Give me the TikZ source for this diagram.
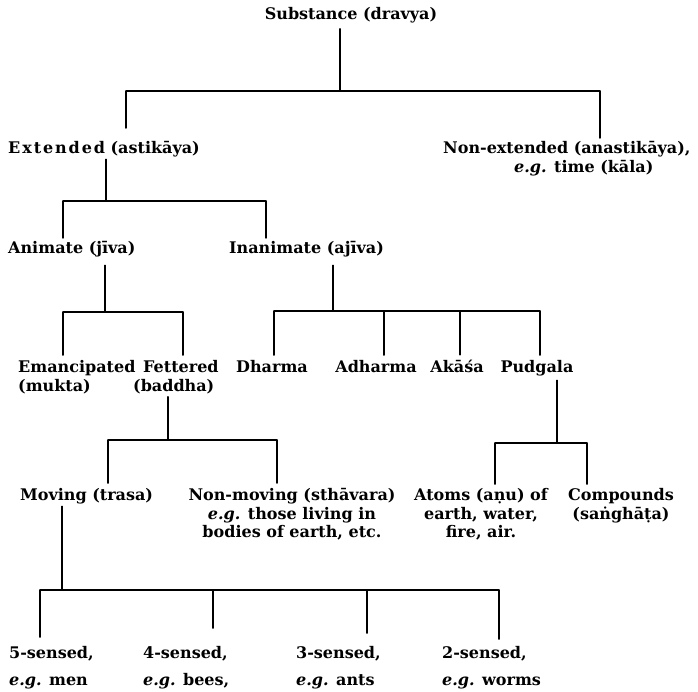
\documentclass[tikz,border=0pt]{standalone}
\usepackage{fontspec}
\setmainfont{DejaVu Serif}
\begin{document}
\begin{tikzpicture}[x=1pt,y=-1pt,
  lbl/.style={font=\bfseries\fontsize{16}{18.5}\selectfont, inner sep=0pt, anchor=base west},
  ln/.style={line width=1.2pt, line cap=round}]
\useasboundingbox (0,0) rectangle (698,691);
% ---- nodes (multi-line nodes are placed by the baseline of their last line)
\node[lbl, anchor=base] (sub) at (351,19) {Substance (dravya)};
\node[lbl] (ext) at (8,153.5) {{\addfontfeature{LetterSpace=12}Extended} (astikāya)};
\node[lbl, align=left] (nonext) at (443,172) {Non-extended (anastikāya),\\\hspace*{71pt}\textit{e.g.} time (kāla)};
\node[lbl] (anim) at (8,253.5) {Animate (jīva)};
\node[lbl] (inan) at (229,253.5) {Inanimate (ajīva)};
\node[lbl, align=left] (eman) at (18,391) {Emancipated\\(mukta)};
\node[lbl, align=left] (fett) at (133,391) {\hspace*{10pt}Fettered\\(baddha)};
\node[lbl, anchor=base] (dh) at (272,372.5) {Dharma};
\node[lbl, anchor=base] (adh) at (376,372.5) {Adharma};
\node[lbl, anchor=base] (aka) at (457,372.5) {Akāśa};
\node[lbl, anchor=base] (pud) at (537,372.5) {Pudgala};
\node[lbl] (mov) at (20,500.5) {Moving (trasa)};
\node[lbl, anchor=base, align=center] (nmov) at (292,537.5) {Non-moving (sthāvara)\\\textit{e.g.} those living in\\bodies of earth, etc.};
\node[lbl, anchor=base, align=center] (atoms) at (481,537.5) {Atoms (aṇu) of\\earth, water,\\fire, air.};
\node[lbl, anchor=base, align=center] (comp) at (621,519) {Compounds\\(saṅghāṭa)};
\node[lbl, align=left] (s5) at (9,685.5) {5-sensed,\\[8.5pt]\textit{e.g.} men};
\node[lbl, align=left] (s4) at (143,685.5) {4-sensed,\\[8.5pt]\textit{e.g.} bees,};
\node[lbl, align=left] (s3) at (296,685.5) {3-sensed,\\[8.5pt]\textit{e.g.} ants};
\node[lbl, align=left] (s2) at (442,685.5) {2-sensed,\\[8.5pt]\textit{e.g.} worms};
% ---- bus coordinates
\coordinate (p1) at (340,91);  \coordinate (a1) at (126,91);  \coordinate (b1) at (600,91);
\coordinate (p2) at (106,201); \coordinate (a2) at (63,201);  \coordinate (b2) at (266,201);
\coordinate (p3) at (105,312); \coordinate (a3) at (63,312);  \coordinate (b3) at (183,312);
\coordinate (p4) at (333,311); \coordinate (a4) at (274,311); \coordinate (b4) at (384,311);
\coordinate (c4) at (460,311); \coordinate (d4) at (540,311);
\coordinate (p5) at (168,440); \coordinate (a5) at (108,440); \coordinate (b5) at (277,440);
\coordinate (p6) at (557,443); \coordinate (a6) at (495,443); \coordinate (b6) at (587,443);
\coordinate (p7) at (62,590);  \coordinate (a7) at (40,590);  \coordinate (b7) at (213,590);
\coordinate (c7) at (367,590); \coordinate (d7) at (499,590);
% ---- group 1
\draw[ln, shorten <=6pt] (p1 |- sub.south) -- (p1);
\draw[ln] (a1) -- (b1);
\draw[ln, shorten >=13pt] (a1) -- (a1 |- ext.north);
\draw[ln, shorten >=3pt] (b1) -- (b1 |- nonext.north);
% ---- group 2
\draw[ln, shorten <=2pt] (p2 |- ext.south) -- (p2);
\draw[ln] (a2) -- (b2);
\draw[ln, shorten >=3pt] (a2) -- (a2 |- anim.north);
\draw[ln, shorten >=3pt] (b2) -- (b2 |- inan.north);
% ---- group 3
\draw[ln, shorten <=8pt] (p3 |- anim.south) -- (p3);
\draw[ln] (a3) -- (b3);
\draw[ln, shorten >=5pt] (a3) -- (a3 |- eman.north);
\draw[ln, shorten >=5pt] (b3) -- (b3 |- fett.north);
% ---- group 4
\draw[ln, shorten <=8pt] (p4 |- inan.south) -- (p4);
\draw[ln] (a4) -- (d4);
\draw[ln, shorten >=5pt] (a4) -- (a4 |- dh.north);
\draw[ln, shorten >=5pt] (b4) -- (b4 |- adh.north);
\draw[ln, shorten >=5pt] (c4) -- (c4 |- aka.north);
\draw[ln, shorten >=5pt] (d4) -- (d4 |- pud.north);
% ---- group 5
\draw[ln, shorten <=3pt] (p5 |- fett.south) -- (p5);
\draw[ln] (a5) -- (b5);
\draw[ln, shorten >=5pt] (a5) -- (a5 |- mov.north);
\draw[ln, shorten >=5pt] (b5) -- (b5 |- nmov.north);
% ---- group 6
\draw[ln, shorten <=4pt] (p6 |- pud.south) -- (p6);
\draw[ln] (a6) -- (b6);
\draw[ln, shorten >=4pt] (a6) -- (a6 |- atoms.north);
\draw[ln, shorten >=4pt] (b6) -- (b6 |- comp.north);
% ---- group 7
\draw[ln, shorten <=2pt] (p7 |- mov.south) -- (p7);
\draw[ln] (a7) -- (d7);
\draw[ln, shorten >=9pt] (a7) -- (a7 |- s5.north);
\draw[ln, shorten >=18pt] (b7) -- (b7 |- s4.north);
\draw[ln, shorten >=13pt] (c7) -- (c7 |- s3.north);
\draw[ln, shorten >=7pt] (d7) -- (d7 |- s2.north);
\end{tikzpicture}
\end{document}
